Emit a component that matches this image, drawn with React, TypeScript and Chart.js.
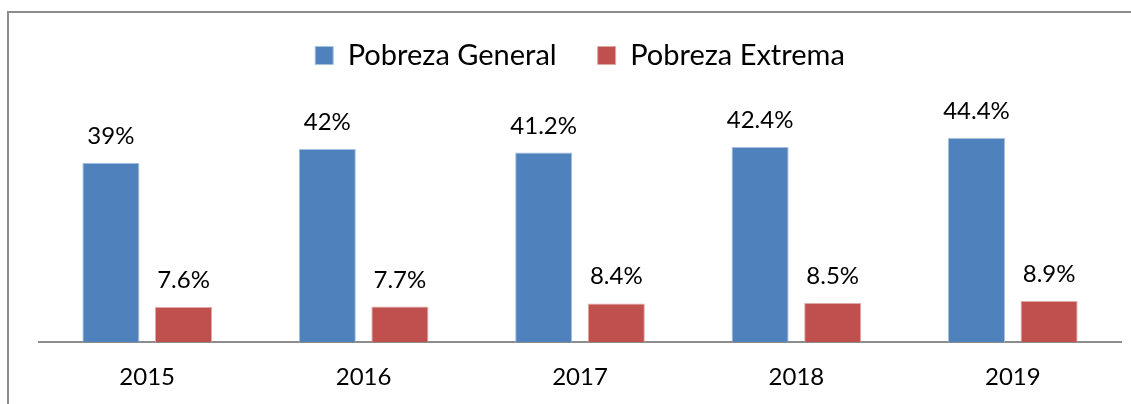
import React, { useEffect, useRef } from "react";
import { Chart, registerables } from "chart.js";

Chart.register(...registerables);

const years = ["2015", "2016", "2017", "2018", "2019"];
const pobrezaGeneral = [39, 42, 41.2, 42.4, 44.4];
const pobrezaExtrema = [7.6, 7.7, 8.4, 8.5, 8.9];
const seriesNames = ["Pobreza General", "Pobreza Extrema"];

const framePlugin = {
  id: "frame",
  beforeDraw(chart: any) {
    const ctx = chart.ctx;
    ctx.save();
    ctx.strokeStyle = "#8c8c8c";
    ctx.lineWidth = 2;
    ctx.beginPath();
    ctx.moveTo(8, chart.height + 5);
    ctx.lineTo(8, 12);
    ctx.lineTo(chart.width + 5, 12);
    ctx.stroke();
    ctx.restore();
  },
};

const labelPlugin = {
  id: "valueLabels",
  afterDatasetsDraw(chart: any) {
    const ctx = chart.ctx;
    ctx.save();
    ctx.font = "24px Lato";
    ctx.fillStyle = "#000";
    ctx.textAlign = "center";
    ctx.textBaseline = "alphabetic";
    chart.data.datasets.forEach((ds: any, i: number) => {
      const meta = chart.getDatasetMeta(i);
      meta.data.forEach((bar: any, j: number) => {
        ctx.fillText(String(ds.data[j]) + "%", bar.x, bar.y - 19);
      });
    });
    ctx.restore();
  },
};

export default function App() {
  const ref = useRef<HTMLCanvasElement>(null);
  useEffect(() => {
    if (!ref.current) return;
    Chart.defaults.font.family = "Lato";
    const chart = new Chart(ref.current, {
      type: "bar",
      data: {
        labels: years,
        datasets: [
          {
            label: seriesNames[0],
            data: pobrezaGeneral,
            backgroundColor: "#4F81BD",
            borderColor: "#A7C0DE",
            borderWidth: 1,
            categoryPercentage: 0.671,
            barPercentage: 0.786,
          },
          {
            label: seriesNames[1],
            data: pobrezaExtrema,
            backgroundColor: "#C0504D",
            borderColor: "#E0A8A6",
            borderWidth: 1,
            categoryPercentage: 0.671,
            barPercentage: 0.786,
          },
        ],
      },
      options: {
        responsive: false,
        animation: false,
        layout: { padding: { left: 39, right: 10, top: 0, bottom: 0 } },
        plugins: {
          legend: {
            position: "top",
            labels: {
              font: { size: 29, family: "Lato" },
              color: "#000",
              boxWidth: 18,
              boxHeight: 18,
              padding: 41,
            },
          },
          tooltip: { enabled: false },
        },
        scales: {
          x: {
            grid: { display: false, drawTicks: false },
            border: { color: "#8c8c8c", width: 2 },
            ticks: { font: { size: 24, family: "Lato" }, color: "#000", padding: 21 },
            afterFit(scale: any) {
              scale.height = 62;
            },
          },
          y: {
            display: false,
            min: 0,
            max: 57,
          },
        },
      },
      plugins: [framePlugin, labelPlugin],
    });
    return () => chart.destroy();
  }, []);
  return (
    <div style={{ position: "absolute", left: 0, top: 0, width: 1131, height: 404, background: "#fff" }}>
      <canvas ref={ref} width={1131} height={404} style={{ width: 1131, height: 404, display: "block" }} />
    </div>
  );
}
